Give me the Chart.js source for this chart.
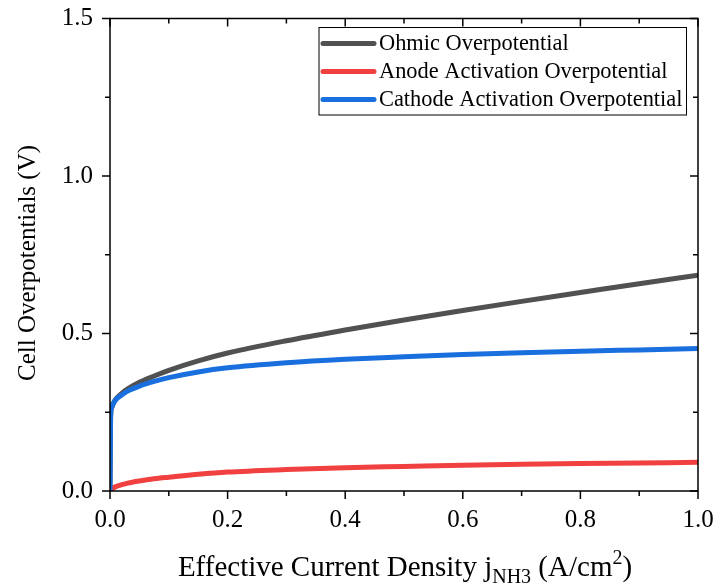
<!DOCTYPE html>
<html>
<head>
<meta charset="utf-8">
<script src="https://cdn.jsdelivr.net/npm/chart.js@4.4.1/dist/chart.umd.min.js"></script>
<style>
  html, body { margin: 0; padding: 0; background: #fff; }
  canvas { display: block; }
</style>
</head>
<body>
<canvas id="chart" width="717" height="586"></canvas>
<script>
// effective current density j_NH3 (A/cm2)
const currentDensity = [0, 0.001, 0.003, 0.005, 0.01, 0.02, 0.03, 0.05, 0.075, 0.1, 0.15, 0.2, 0.3, 0.4, 0.5, 0.6, 0.7, 0.8, 0.9, 1.0];
// overpotentials (V)
const ohmic = [0, 0.235, 0.266, 0.276, 0.292, 0.310, 0.324, 0.345, 0.365, 0.383, 0.413, 0.438, 0.477, 0.511, 0.543, 0.573, 0.602, 0.630, 0.658, 0.685];
const anode = [0, 0.003, 0.006, 0.009, 0.014, 0.02, 0.025, 0.032, 0.039, 0.044, 0.053, 0.06, 0.068, 0.074, 0.078, 0.082, 0.085, 0.087, 0.089, 0.091];
const cathode = [0, 0.235, 0.265, 0.275, 0.29, 0.305, 0.317, 0.333, 0.348, 0.36, 0.378, 0.391, 0.407, 0.418, 0.426, 0.433, 0.439, 0.444, 0.448, 0.452];

const seriesNames = ["Ohmic Overpotential", "Anode Activation Overpotential", "Cathode Activation Overpotential"];
const xTickLabels = ["0.0", "0.2", "0.4", "0.6", "0.8", "1.0"];
const yTickLabels = ["0.0", "0.5", "1.0", "1.5"];

const FONT = "'Liberation Serif', 'Times New Roman', serif";

const toPoints = (ys) => currentDensity.map((x, i) => ({ x: x, y: ys[i] }));

// axes box, inward/outward ticks, titles and the boxed legend
const framePlugin = {
  id: "frame",
  afterDatasetsDraw(chart) {
    const { ctx, chartArea: a, scales } = chart;
    const x = scales.x, y = scales.y;
    ctx.save();
    ctx.strokeStyle = "#000";
    ctx.lineWidth = 1.5;
    ctx.strokeRect(a.left, a.top, a.right - a.left, a.bottom - a.top);

    const line = (x1, y1, x2, y2) => {
      ctx.beginPath();
      ctx.moveTo(x1, y1);
      ctx.lineTo(x2, y2);
      ctx.stroke();
    };
    x.ticks.forEach((t) => {
      const px = x.getPixelForValue(t.value);
      const len = Math.round(t.value * 10) % 2 === 0 ? 8 : 5;
      line(px, a.bottom, px, a.bottom + len);
      line(px, a.top, px, a.top + len);
    });
    y.ticks.forEach((t) => {
      const py = y.getPixelForValue(t.value);
      const len = Math.round(t.value * 4) % 2 === 0 ? 8 : 5;
      line(a.left, py, a.left - len, py);
      line(a.right, py, a.right - len, py);
    });
    ctx.restore();
  },
  afterDraw(chart) {
    const { ctx } = chart;
    ctx.save();
    ctx.fillStyle = "#000";

    // y title
    ctx.save();
    ctx.translate(28, 263);
    ctx.rotate(-Math.PI / 2);
    ctx.font = "25px " + FONT;
    ctx.textAlign = "center";
    ctx.textBaseline = "middle";
    ctx.fillText("Cell Overpotentials (V)", 0, 0);
    ctx.restore();

    // x title with sub/superscript
    const parts = [
      { t: "Effective Current Density j", s: 29, dy: 0 },
      { t: "NH3", s: 20, dy: 7 },
      { t: " (A/cm", s: 29, dy: 0 },
      { t: "2", s: 20, dy: -12 },
      { t: ")", s: 29, dy: 0 },
    ];
    let total = 0;
    parts.forEach((p) => {
      ctx.font = p.s + "px " + FONT;
      p.w = ctx.measureText(p.t).width;
      total += p.w;
    });
    let cx = 405 - total / 2;
    const base = 576;
    ctx.textAlign = "left";
    ctx.textBaseline = "alphabetic";
    parts.forEach((p) => {
      ctx.font = p.s + "px " + FONT;
      ctx.fillText(p.t, cx, base + p.dy);
      cx += p.w;
    });

    // legend
    const bx = 319, by = 27.5, bw = 367.5, bh = 87.5;
    ctx.strokeStyle = "#000";
    ctx.lineWidth = 1;
    ctx.strokeRect(bx, by, bw, bh);
    ctx.font = "22.4px " + FONT;
    ctx.textBaseline = "middle";
    chart.data.datasets.forEach((ds, i) => {
      const ry = 43.5 + i * 28;
      ctx.strokeStyle = ds.borderColor;
      ctx.lineWidth = 5;
      ctx.lineCap = "round";
      ctx.beginPath();
      ctx.moveTo(323, ry);
      ctx.lineTo(374, ry);
      ctx.stroke();
      ctx.fillStyle = "#000";
      ctx.fillText(ds.label, 379, ry + 1);
    });
    ctx.restore();
  },
};

new Chart(document.getElementById("chart"), {
  type: "line",
  data: {
    datasets: [
      { label: seriesNames[0], data: toPoints(ohmic), borderColor: "#515151", order: 2 },
      { label: seriesNames[1], data: toPoints(anode), borderColor: "#F14040", order: 1 },
      { label: seriesNames[2], data: toPoints(cathode), borderColor: "#1A6FDF", order: 0 },
    ],
  },
  options: {
    responsive: false,
    animation: false,
    layout: { padding: { top: 18.5, right: 19, left: 0, bottom: 0 } },
    elements: {
      point: { radius: 0 },
      line: { borderWidth: 5, cubicInterpolationMode: "monotone", fill: false },
    },
    plugins: { legend: { display: false }, tooltip: { enabled: false } },
    scales: {
      x: {
        type: "linear",
        min: 0,
        max: 1,
        grid: { display: false, drawTicks: false },
        border: { display: false },
        afterFit: (scale) => {
          scale.height = 95;
          scale.paddingLeft = 0;
          scale.paddingRight = 0;
        },
        ticks: {
          stepSize: 0.1,
          autoSkip: false,
          maxRotation: 0,
          padding: 14,
          color: "#000",
          font: { family: FONT, size: 25 },
          callback: (v) => {
            const k = Math.round(v * 10);
            return k % 2 === 0 ? xTickLabels[k / 2] : "";
          },
        },
      },
      y: {
        type: "linear",
        min: 0,
        max: 1.5,
        grid: { display: false, drawTicks: false },
        border: { display: false },
        afterFit: (scale) => {
          scale.width = 110;
          scale.paddingTop = 0;
          scale.paddingBottom = 0;
        },
        ticks: {
          stepSize: 0.25,
          autoSkip: false,
          padding: 17,
          color: "#000",
          font: { family: FONT, size: 25 },
          callback: (v) => {
            const k = Math.round(v * 4);
            return k % 2 === 0 ? yTickLabels[k / 2] : "";
          },
        },
      },
    },
  },
  plugins: [framePlugin],
});
</script>
</body>
</html>
